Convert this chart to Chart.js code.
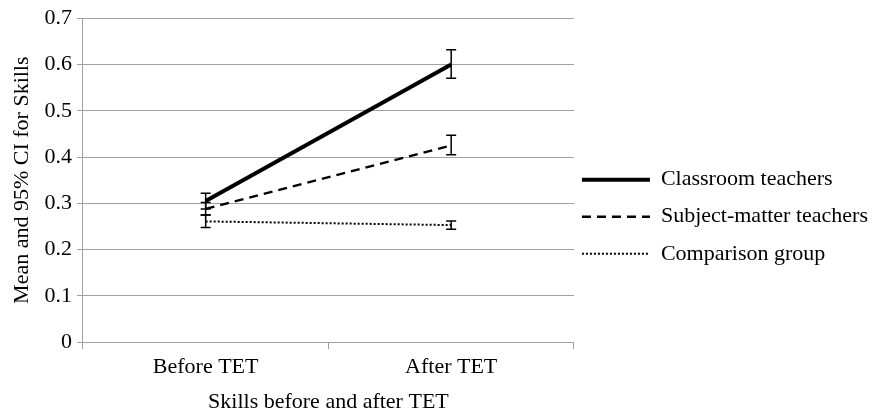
<!DOCTYPE html>
<html>
<head>
<meta charset="utf-8">
<script src="https://cdn.jsdelivr.net/npm/chart.js@4.4.1/dist/chart.umd.min.js"></script>
<style>
  body { margin: 0; background: #fff; }
  #wrap { width: 878px; height: 415px; }
</style>
</head>
<body>
<div id="wrap"><canvas id="grafico"></canvas></div>
<script>
// data
const categorias = ['Before TET', 'After TET'];
const classroomMean = [0.305, 0.600];
const classroomLow = [0.288, 0.570];
const classroomHigh = [0.322, 0.632];
const subjectMean = [0.288, 0.425];
const subjectLow = [0.275, 0.405];
const subjectHigh = [0.302, 0.447];
const comparisonMean = [0.261, 0.253];
const comparisonLow = [0.248, 0.244];
const comparisonHigh = [0.275, 0.262];
const yTicks = [0, 0.1, 0.2, 0.3, 0.4, 0.5, 0.6, 0.7];

const fonte = { family: "'Liberation Serif', 'DejaVu Serif', serif", size: 22 };

// draws the 95% CI whiskers using the chart scales
const errorBars = {
  id: 'errorBars',
  afterDatasetsDraw(chart) {
    const ctx = chart.ctx;
    const x = chart.scales.x, y = chart.scales.y;
    ctx.save();
    ctx.strokeStyle = '#000';
    ctx.lineWidth = 1.5;
    chart.data.datasets.forEach(ds => {
      ds.low.forEach((lo, i) => {
        const px = x.getPixelForValue(i);
        const pLo = y.getPixelForValue(lo);
        const pHi = y.getPixelForValue(ds.high[i]);
        ctx.beginPath();
        ctx.moveTo(px, pLo); ctx.lineTo(px, pHi);
        ctx.moveTo(px - 5, pLo); ctx.lineTo(px + 5, pLo);
        ctx.moveTo(px - 5, pHi); ctx.lineTo(px + 5, pHi);
        ctx.stroke();
      });
    });
    ctx.restore();
  }
};

var ctx = document.getElementById('grafico').getContext('2d');
var meuGrafico = new Chart(ctx, {
  type: 'line',
  data: {
    labels: categorias,
    datasets: [{
      label: 'Classroom teachers',
      data: classroomMean, low: classroomLow, high: classroomHigh,
      borderColor: '#000', borderWidth: 4, pointRadius: 0
    }, {
      label: 'Subject-matter teachers',
      data: subjectMean, low: subjectLow, high: subjectHigh,
      borderColor: '#000', borderWidth: 2.5, borderDash: [9, 6], pointRadius: 0
    }, {
      label: 'Comparison group',
      data: comparisonMean, low: comparisonLow, high: comparisonHigh,
      borderColor: '#000', borderWidth: 2, borderDash: [2, 2], pointRadius: 0
    }]
  },
  plugins: [errorBars],
  options: {
    responsive: true,
    maintainAspectRatio: false,
    animation: false,
    layout: { padding: { top: 1, right: 0, left: 5, bottom: 0 } },
    plugins: {
      tooltip: { enabled: false },
      legend: {
        position: 'right',
        maxWidth: 320,
        title: { display: true, text: '', font: { size: 12 }, padding: 5 },
        labels: {
          usePointStyle: true,
          pointStyle: 'line',
          pointStyleWidth: 68,
          boxHeight: 10,
          padding: 8,
          color: '#000',
          font: { family: fonte.family, size: fonte.size, lineHeight: 1.32 },
          generateLabels: chart => {
            const itens = Chart.defaults.plugins.legend.labels.generateLabels(chart);
            itens.forEach(it => {
              const ds = chart.data.datasets[it.datasetIndex];
              it.text = [it.text];
              it.lineDash = ds.borderDash || [];
              it.lineWidth = ds.borderWidth;
              it.strokeStyle = '#000';
            });
            return itens;
          }
        }
      }
    },
    scales: {
      x: {
        offset: true,
        grid: { offset: true, drawOnChartArea: false, drawTicks: true, tickLength: 7, color: '#a0a0a0' },
        border: { color: '#a0a0a0' },
        ticks: { color: '#000', font: fonte, padding: 5 },
        title: { display: true, text: 'Skills before and after TET', color: '#000', font: fonte, padding: { top: 3, bottom: 0 } }
      },
      y: {
        min: 0, max: 0.7,
        afterBuildTicks: axis => { axis.ticks = yTicks.map(v => ({ value: v })); },
        grid: { color: '#a0a0a0', tickLength: 6 },
        border: { color: '#a0a0a0' },
        ticks: { color: '#000', font: fonte, padding: 5, callback: v => String(v) },
        title: { display: true, text: 'Mean and 95% CI for Skills', color: '#000', font: fonte, padding: { bottom: 4 } }
      }
    }
  }
});
</script>
</body>
</html>
